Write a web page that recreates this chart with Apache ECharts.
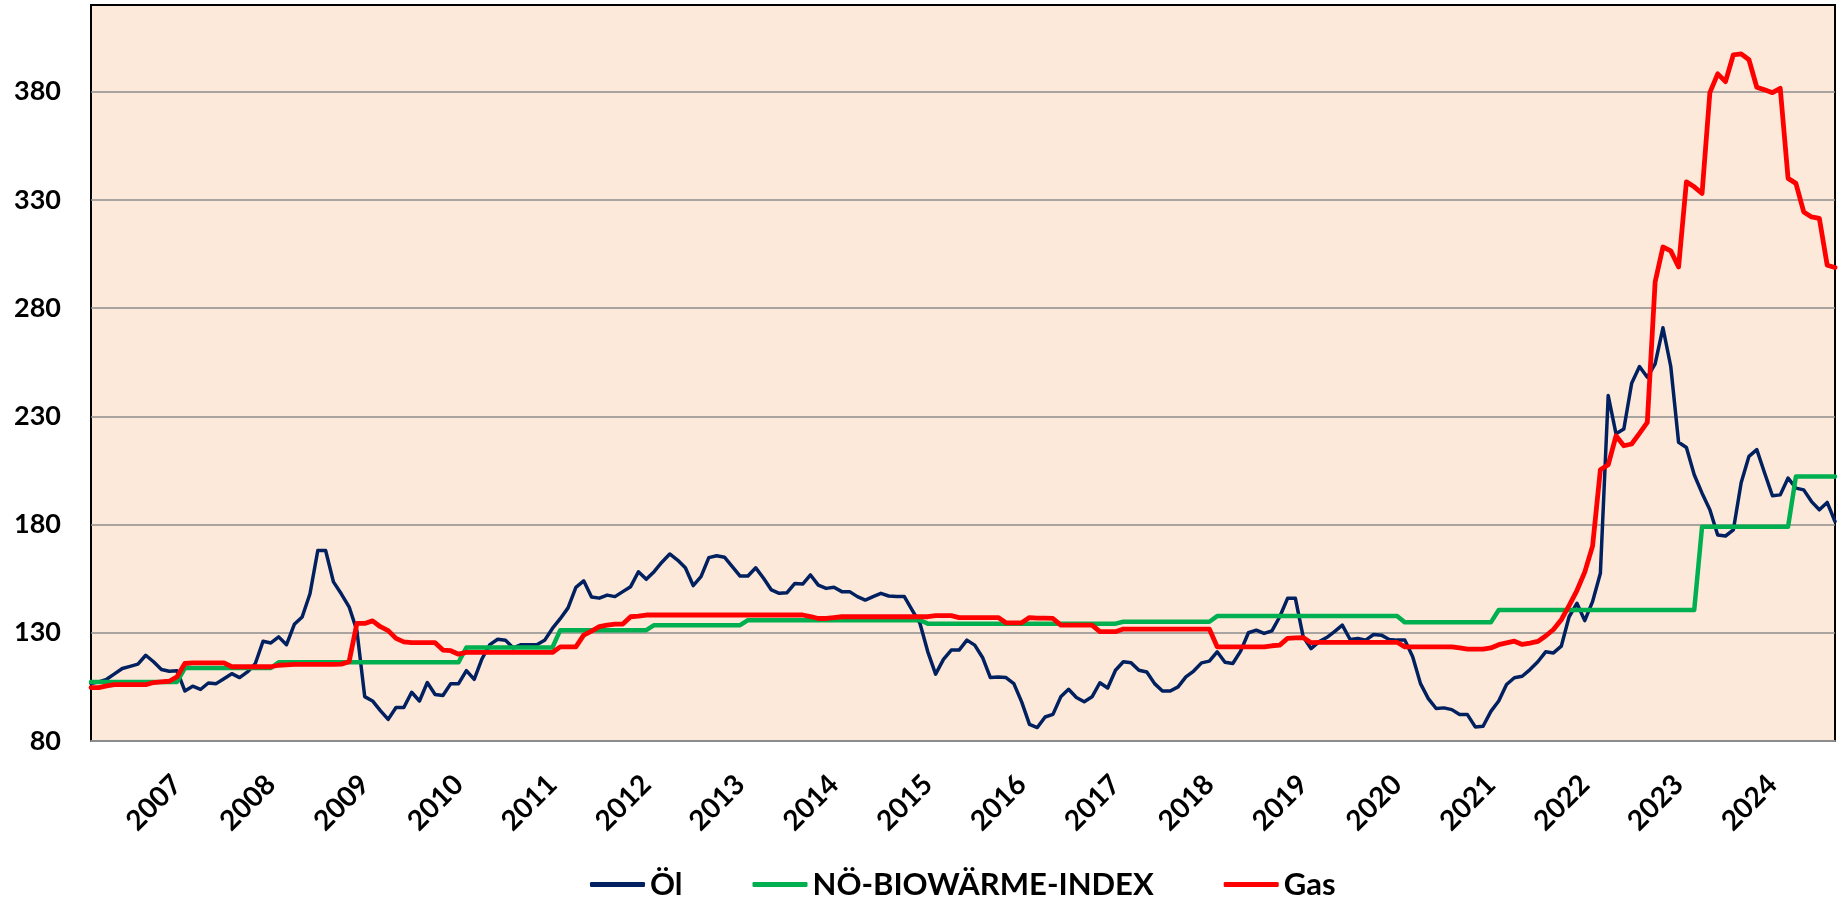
<!DOCTYPE html>
<html>
<head>
<meta charset="utf-8">
<script src="https://cdn.jsdelivr.net/npm/echarts@6/dist/echarts.min.js"></script>
<style>
  html, body { margin: 0; padding: 0; background: #fff; }
  #chart { width: 1843px; height: 898px; }
</style>
</head>
<body>
<div id="chart"></div>
<script>
// monthly values, first point = Feb 2006
const startYear = 2006;
const startMonth = 2;

const seriesNames = ['Öl', 'NÖ-BIOWÄRME-INDEX', 'Gas'];

const oel = [
  106.5, 107.3, 108.5, 111, 113.5, 114.5, 115.5, 119.6, 116.6, 113, 112.2, 112.5,
  103.1, 105.3, 103.8, 106.8, 106.5, 108.8, 111.1, 109.3, 111.9, 115.7, 126.1, 125.3,
  128.1, 124.5, 133.9, 137.3, 148, 168, 168, 153.5, 148, 142, 131, 100.5,
  98.5, 94, 90, 95.5, 95.5, 102.5, 98.5, 107, 101.5, 101, 106.5, 106.5,
  112.5, 108.5, 118, 124.5, 127, 126.5, 123, 124.5, 124.5, 124.5, 126.5, 132,
  136.5, 141.5, 151, 154, 146.5, 146, 147.4, 146.7, 149, 151.3, 158.2, 154.7,
  158.2, 162.6, 166.4, 163.6, 160, 151.8, 155.9, 164.7, 165.6, 164.9, 160.6, 156.2,
  156.2, 160, 155.2, 149.8, 148.2, 148.5, 152.8, 152.5, 156.7, 152, 150.5, 151,
  149, 149, 146.7, 145.1, 146.7, 148.2, 147, 146.7, 146.7, 140.5, 134.3, 121.2,
  110.9, 117.7, 122, 122, 126.6, 124.3, 118.6, 109.3, 109.6, 109.3, 106.5, 98.1,
  87.7, 86.2, 91.1, 92.3, 100.4, 103.9, 100.1, 98.1, 100.4, 106.9, 104.5, 112.7,
  116.6, 116.1, 112.7, 111.9, 106.5, 103.1, 103.1, 105, 109.6, 112.3, 116.1, 116.9,
  121.2, 116.4, 115.8, 121.5, 130, 131.2, 129.7, 130.9, 137.4, 145.9, 145.9, 128.1,
  122.7, 125.8, 127.8, 130.5, 133.5, 126.9, 127.4, 126.6, 129.2, 128.9, 126.9, 126.6,
  126.6, 118.9, 106.5, 99.6, 95, 95.3, 94.5, 92.2, 92.2, 86.5, 86.8, 93.7,
  98.5, 106.1, 109.2, 109.9, 113, 116.6, 121.2, 120.7, 123.8, 137.4, 143.6, 135.6,
  144.4, 157.5, 239.6, 221.9, 224.1, 245.3, 253, 248, 254.2, 270.9, 253, 218,
  215.6, 203, 194.5, 186.8, 175.2, 174.7, 177.5, 199.3, 211.5, 214.6, 203.8, 193.3,
  193.7, 201.5, 196.8, 196, 190.6, 186.8, 190.2, 181.4
];

const biowaerme = [
  107.3, 107.3, 107.3, 107.3, 107.3, 107.3, 107.3, 107.3, 107.3, 107.3, 107.3, 107.3,
  113.7, 113.7, 113.7, 113.7, 113.7, 113.7, 113.7, 113.7, 113.7, 113.7, 113.7, 113.7,
  116.4, 116.4, 116.4, 116.4, 116.4, 116.4, 116.4, 116.4, 116.4, 116.4, 116.4, 116.4,
  116.4, 116.4, 116.4, 116.4, 116.4, 116.4, 116.4, 116.4, 116.4, 116.4, 116.4, 116.4,
  123.2, 123.2, 123.2, 123.2, 123.2, 123.2, 123.2, 123.2, 123.2, 123.2, 123.2, 123.2,
  131.2, 131.2, 131.2, 131.2, 131.2, 131.2, 131.2, 131.2, 131.2, 131.2, 131.2, 131.2,
  133.5, 133.5, 133.5, 133.5, 133.5, 133.5, 133.5, 133.5, 133.5, 133.5, 133.5, 133.5,
  135.8, 135.8, 135.8, 135.8, 135.8, 135.8, 135.8, 135.8, 135.8, 135.8, 135.8, 135.8,
  135.8, 135.8, 135.8, 135.8, 135.8, 135.8, 135.8, 135.8, 135.8, 135.8, 135.8, 134.2,
  134.2, 134.2, 134.2, 134.2, 134.2, 134.2, 134.2, 134.2, 134.2, 134.2, 134.2, 134.2,
  134.2, 134.2, 134.2, 134.2, 134.2, 134.2, 134.2, 134.2, 134.2, 134.2, 134.2, 134.2,
  135.1, 135.1, 135.1, 135.1, 135.1, 135.1, 135.1, 135.1, 135.1, 135.1, 135.1, 135.1,
  137.7, 137.7, 137.7, 137.7, 137.7, 137.7, 137.7, 137.7, 137.7, 137.7, 137.7, 137.7,
  137.7, 137.7, 137.7, 137.7, 137.7, 137.7, 137.7, 137.7, 137.7, 137.7, 137.7, 137.7,
  134.8, 134.8, 134.8, 134.8, 134.8, 134.8, 134.8, 134.8, 134.8, 134.8, 134.8, 134.8,
  140.5, 140.5, 140.5, 140.5, 140.5, 140.5, 140.5, 140.5, 140.5, 140.5, 140.5, 140.5,
  140.5, 140.5, 140.5, 140.5, 140.5, 140.5, 140.5, 140.5, 140.5, 140.5, 140.5, 140.5,
  140.5, 140.5, 179, 179, 179, 179, 179, 179, 179, 179, 179, 179,
  179, 179, 202.2, 202.2, 202.2, 202.2, 202.2, 202.2
];

const gas = [
  104.7, 104.7, 105.5, 106, 106, 106, 106, 106, 107, 107.3, 107.6, 109.7,
  115.8, 116.1, 116.1, 116.1, 116.1, 116.1, 114.3, 114.3, 114.3, 114.3, 114.3, 114.3,
  115, 115.2, 115.4, 115.4, 115.4, 115.4, 115.4, 115.4, 115.5, 116.6, 134.3, 134.3,
  135.5, 132.8, 131, 127.4, 125.8, 125.4, 125.4, 125.4, 125.4, 122, 121.7, 120.1,
  120.9, 120.9, 120.9, 120.9, 120.9, 120.9, 120.9, 120.9, 120.9, 120.9, 120.9, 120.9,
  123.5, 123.5, 123.5, 128.9, 130.8, 132.8, 133.5, 134, 134, 137.4, 137.7, 138.2,
  138.2, 138.2, 138.2, 138.2, 138.2, 138.2, 138.2, 138.2, 138.2, 138.2, 138.2, 138.2,
  138.2, 138.2, 138.2, 138.2, 138.2, 138.2, 138.2, 138.2, 137.5, 136.6, 136.6, 137,
  137.4, 137.4, 137.4, 137.4, 137.4, 137.4, 137.4, 137.4, 137.4, 137.4, 137.4, 137.4,
  137.9, 137.9, 137.9, 137, 137, 137, 137, 137, 137, 134.6, 134.6, 134.6,
  137, 136.8, 136.8, 136.6, 133.5, 133.5, 133.5, 133.5, 133.5, 130.5, 130.5, 130.5,
  131.7, 131.7, 131.7, 131.7, 131.7, 131.7, 131.7, 131.7, 131.7, 131.7, 131.7, 131.7,
  123.5, 123.5, 123.5, 123.5, 123.5, 123.5, 123.5, 124, 124.3, 127.4, 127.6, 127.8,
  125.4, 125.6, 125.6, 125.6, 125.6, 125.6, 125.6, 125.6, 125.6, 125.6, 125.6, 125.6,
  123.5, 123.5, 123.5, 123.5, 123.5, 123.5, 123.5, 123, 122.4, 122.4, 122.4, 123,
  124.5, 125.3, 126.1, 124.6, 125.2, 126, 128.5, 131.5, 136, 142.5, 149.5, 158,
  170, 205.3, 207.6, 221, 216.4, 217.2, 222.1, 227.2, 292, 308.2, 306.4, 299,
  338.3, 336, 332.9, 379.5, 388.2, 384.6, 397, 397.4, 394.7, 382, 380.8, 379.5,
  381.5, 339.9, 337.6, 324.4, 322.1, 321.4, 299.8, 298.7
];

const yMin = 80;
const yMax = 420;
const yStep = 50;

// month labels "YYYY-MM"
const months = [];
for (let i = 0; i < oel.length; i++) {
    const t = startMonth - 1 + i;
    const y = startYear + Math.floor(t / 12);
    const m = (t % 12) + 1;
    months.push(y + '-' + (m < 10 ? '0' + m : m));
}

const font = 'Lato';
const chart = echarts.init(document.getElementById('chart'), null, { renderer: 'canvas' });

chart.setOption({
    animation: false,
    backgroundColor: '#ffffff',
    grid: {
        left: 91, top: 5, right: 8, bottom: 157,
        show: true,
        backgroundColor: '#FDE9D9',
        borderColor: '#000000',
        borderWidth: 2
    },
    legend: {
        data: seriesNames,
        left: 585,
        top: 864,
        icon: 'roundRect',
        itemWidth: 55,
        itemHeight: 5,
        itemGap: 70,
        textStyle: { fontFamily: font, fontWeight: 'bold', fontSize: 31, color: '#000' }
    },
    xAxis: {
        type: 'category',
        data: months,
        boundaryGap: false,
        z: 3,
        axisLine: { show: true, lineStyle: { color: '#8c8c8c', width: 2 } },
        axisTick: { show: false },
        splitLine: { show: false },
        axisLabel: {
            interval: (idx, val) => val.slice(5) === '01',
            formatter: val => val.slice(0, 4),
            rotate: 45,
            margin: 39,
            color: '#000',
            fontFamily: font,
            fontWeight: 'bold',
            fontSize: 28
        }
    },
    yAxis: {
        type: 'value',
        min: yMin,
        max: yMax,
        interval: yStep,
        axisLine: { show: false },
        axisTick: { show: false },
        splitLine: {
            show: true,
            showMinLine: false,
            showMaxLine: false,
            lineStyle: { color: '#8c8c8c', width: 1.5 }
        },
        axisLabel: {
            showMaxLabel: false,
            margin: 30,
            color: '#000',
            fontFamily: font,
            fontWeight: 'bold',
            fontSize: 27
        }
    },
    series: [
        {
            name: seriesNames[0],
            type: 'line',
            data: oel,
            symbol: 'none',
            color: '#002060',
            lineStyle: { color: '#002060', width: 3.5, join: 'round', cap: 'round' }
        },
        {
            name: seriesNames[1],
            type: 'line',
            data: biowaerme,
            symbol: 'none',
            color: '#00B050',
            lineStyle: { color: '#00B050', width: 4.5, join: 'round', cap: 'round' }
        },
        {
            name: seriesNames[2],
            type: 'line',
            data: gas,
            symbol: 'none',
            color: '#FF0000',
            lineStyle: { color: '#FF0000', width: 4.8, join: 'round', cap: 'round' }
        }
    ]
});
</script>
</body>
</html>
